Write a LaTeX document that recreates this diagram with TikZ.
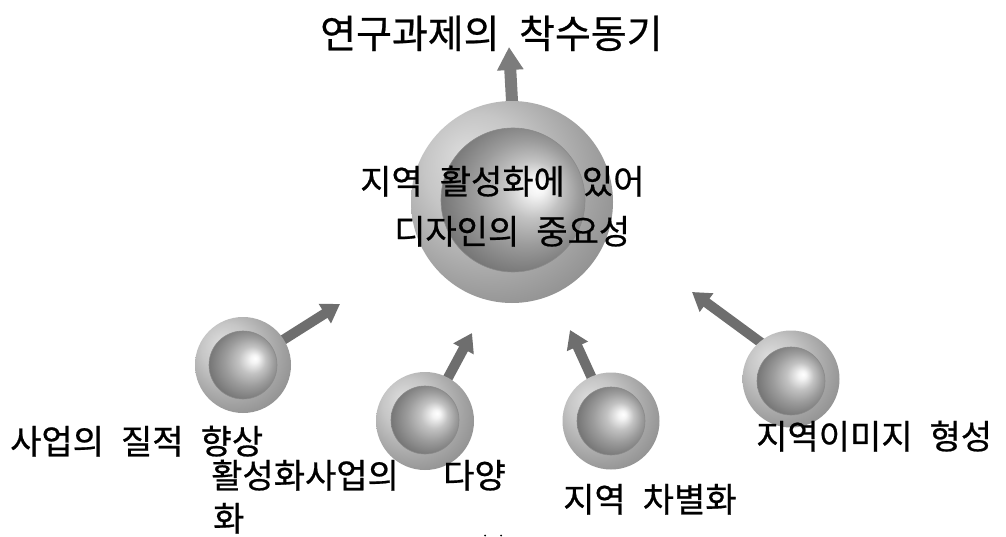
\documentclass[tikz,border=0pt]{standalone}
\usepackage{fontspec}
\newfontfamily\kr[FakeBold=0.6]{Noto Sans CJK KR}
\usetikzlibrary{arrows.meta,backgrounds}
\definecolor{ibA}{HTML}{FFFFFF}
\definecolor{ibB}{HTML}{F4F4F4}
\definecolor{ibC}{HTML}{C2C2C2}
\definecolor{ibD}{HTML}{9C9C9C}
\definecolor{ibE}{HTML}{747474}
\definecolor{ibF}{HTML}{565656}
\definecolor{orA}{HTML}{DCDCDC}
\definecolor{orB}{HTML}{C6C6C6}
\definecolor{orC}{HTML}{909090}
\definecolor{orD}{HTML}{6C6C6C}
\definecolor{ibedge}{HTML}{8A8A8A}
\definecolor{arrgray}{HTML}{6E6E6E}
\definecolor{bigarr}{HTML}{7C7C7C}
\pgfdeclareradialshading{innerball}{\pgfpoint{9bp}{5bp}}{color(0bp)=(ibA); color(3bp)=(ibB); color(10bp)=(ibC); color(18bp)=(ibD); color(28bp)=(ibE); color(38bp)=(ibF)}
\pgfdeclareradialshading{outerring}{\pgfpoint{-12bp}{12bp}}{color(0bp)=(orA); color(13bp)=(orB); color(32bp)=(orC); color(48bp)=(orD)}
\newcommand\ksp{\hspace*{0.5em}}
\begin{document}
\begin{tikzpicture}[x=1pt,y=-1pt,
  outer/.style={circle, inner sep=0pt, shading=outerring},
  inner/.style={circle, inner sep=0pt, shading=innerball, draw=ibedge, line width=0.6pt},
  arr/.style={line width=10pt, draw=arrgray, -{Triangle[width=22pt,length=18pt]}},
  bigarrow/.style={line width=12pt, draw=bigarr, -{Triangle[width=25pt,length=23pt]}},
  lbl/.style={anchor=base west, inner sep=0pt, font=\kr\fontsize{34}{38}\selectfont}]
\useasboundingbox (0,0) rectangle (1006,537);
% spheres
\node[outer, minimum size=202pt] (b) at (512,202) {};
\node[inner, minimum size=144pt] (bi) at (513,200) {};
\node[outer, minimum size=96pt] (s1) at (243,365) {};
\node[inner, minimum size=68pt] (s1i) at (243,365) {};
\node[outer, minimum size=98pt] (s2) at (425,421) {};
\node[inner, minimum size=68pt] (s2i) at (425,420) {};
\node[outer, minimum size=97pt] (s3) at (611,421) {};
\node[inner, minimum size=68pt] (s3i) at (611,421) {};
\node[outer, minimum size=97pt] (s4) at (791,379) {};
\node[inner, minimum size=68pt] (s4i) at (791,381) {};
% arrow tips
\coordinate (t0) at (509,47);
\coordinate (t1) at (340,304);
\coordinate (t2) at (472,333);
\coordinate (t3) at (570,330);
\coordinate (t4) at (692,292);
\begin{scope}[on background layer]
  \fill[white] (0,0) rectangle (1006,537);
  \draw[bigarrow, shorten <=-10pt] (b.north) -- (t0);
  \draw[arr, shorten <=-8pt] (s1.32) -- (t1);
  \draw[arr, shorten <=-8pt] (s2.62) -- (t2);
  \draw[arr, shorten <=-8pt] (s3.114) -- (t3);
  \draw[arr, shorten <=-8pt] (s4.130) -- (t4);
\end{scope}
% texts
\node[lbl, font=\kr\fontsize{39}{43}\selectfont] (title) at (320,48) {연구과제의\ksp 착수동기};
\node[lbl] (c1) at (360,194) {지역\ksp 활성화에\ksp 있어};
\node[lbl] (c2) at (394,244) {디자인의\ksp 중요성};
\node[lbl] (l1) at (10,454) {사업의\ksp 질적\ksp 향상};
\node[lbl] (l2a) at (211,488) {활성화사업의};
\node[lbl] (l2b) at (443,488) {다양};
\node[lbl] (l2c) at (213,531) {화};
\node[lbl] (l3) at (563,512) {지역\ksp 차별화};
\node[lbl] (l4) at (756,449) {지역이미지\ksp 형성};
% clipped marks at the bottom edge
\fill (485,535.5) circle (1);
\fill (501,535.5) circle (1);
\end{tikzpicture}
\end{document}
